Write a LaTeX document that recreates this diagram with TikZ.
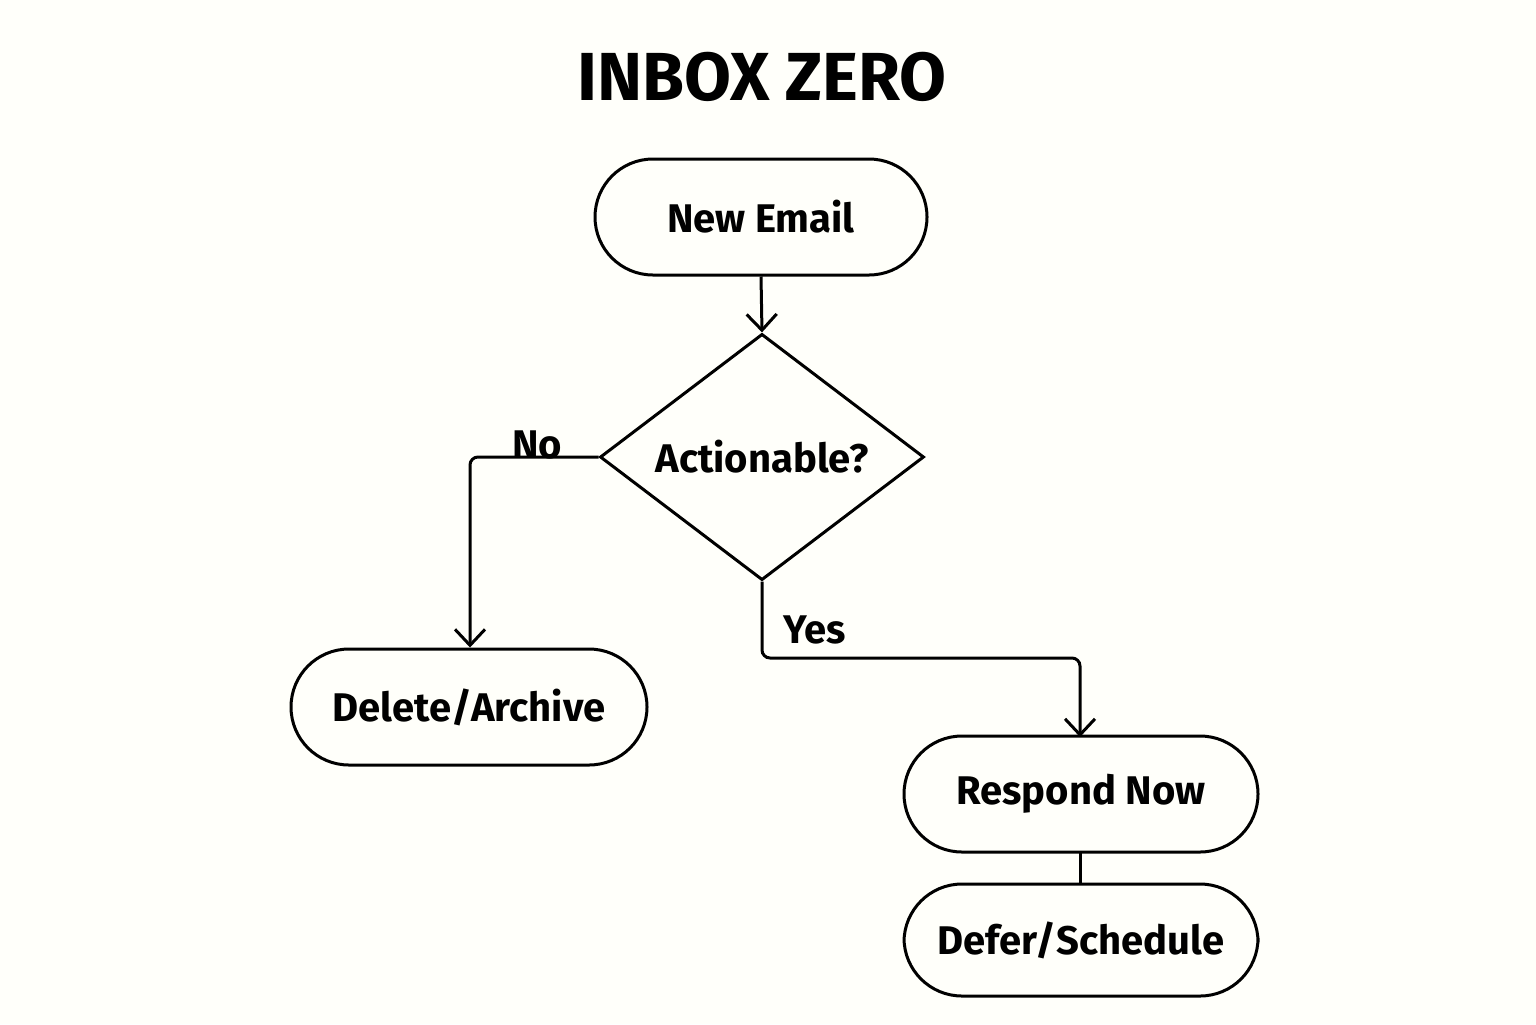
\documentclass[tikz,border=0pt]{standalone}
\usepackage{fontspec}
\setmainfont{Fira Sans}
\usetikzlibrary{shapes.geometric,arrows.meta}
\begin{document}
\begin{tikzpicture}[x=0.5pt,y=-0.5pt,
  every node/.style={font=\fontsize{20}{24}\selectfont\bfseries},
  pill/.style={draw,line width=1.5pt,rounded corners=29pt,minimum width=#1,minimum height=58pt,inner sep=0pt},
  conn/.style={line width=1.5pt,rounded corners=4pt},
  arr/.style={conn,-{Straight Barb[length=8pt,width=15pt,line width=1.5pt]}}]
\useasboundingbox[fill=white!98!yellow] (0,0) rectangle (1536,1024);
\node[font=\fontsize{34}{40}\selectfont\bfseries] (title) at (762,77) {INBOX ZERO};
\node[pill=166pt] (new) at (761,217) {New Email};
\node[draw,line width=1.5pt,diamond,minimum width=162pt,minimum height=113pt,inner sep=0pt] (dec) at (762,457) {Actionable?};
\node[pill=178pt] (del) at (469,707) {Delete/Archive};
\node[pill=177pt] (resp) at (1081,794) {Respond Now};
\node[pill=177pt,minimum height=56pt] (defer) at (1081,940) {Defer/Schedule};
\node (no) at (537,445) {No};
\node (yes) at (815,630) {Yes};
\draw[arr] (new.south) -- (dec.north);
\draw[arr] (dec.west) -- (470,457) -- (del.north -| 470,0);
\draw[arr] (dec.south) -- (762,658) -- (1080,658) -- (1080,737);
\draw[conn] (1080,851) -- (1080,884);
\end{tikzpicture}
\end{document}
